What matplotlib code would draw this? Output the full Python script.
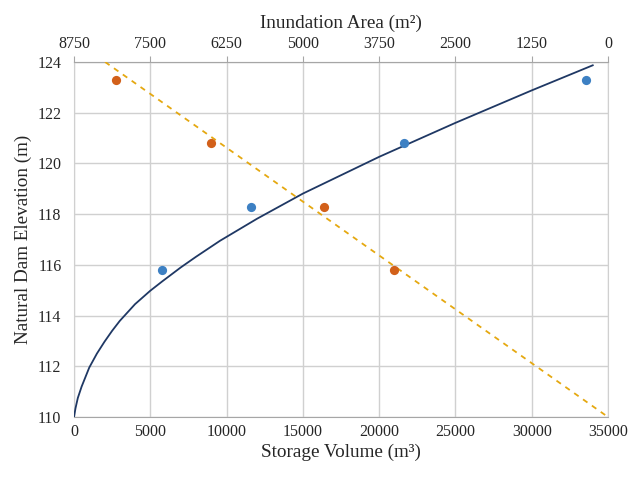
import matplotlib
matplotlib.use("Agg")
import matplotlib.pyplot as plt

plt.rcParams['font.family'] = ['Liberation Serif', 'DejaVu Serif']

# Storage volume observations (bottom axis)
volume = [5790, 11580, 21630, 33560]
volume_elev = [115.8, 118.3, 120.8, 123.3]

# Inundation area observations (top axis)
area = [8062, 6505, 4659, 3503]
area_elev = [123.3, 120.8, 118.3, 115.8]

# Storage-volume trendline
trend_vol = [0, 100, 250, 500, 1000, 1500, 2000, 2500, 3000, 4000, 5000, 5787,
             7000, 8000, 9570, 12000, 15000, 20000, 25000, 30000, 34000]
trend_vol_elev = [110, 110.35, 110.75, 111.2, 111.95, 112.5, 112.97, 113.4,
                  113.79, 114.45, 114.98, 115.35, 115.9, 116.32, 116.95,
                  117.82, 118.81, 120.26, 121.6, 122.88, 123.87]

# Inundation-area trendline end points
trend_area = [8240, 0]
trend_area_elev = [124, 110]

x_ticks = [0, 5000, 10000, 15000, 20000, 25000, 30000, 35000]
top_ticks = [8750, 7500, 6250, 5000, 3750, 2500, 1250, 0]
y_ticks = [110, 112, 114, 116, 118, 120, 122, 124]

fig = plt.figure(figsize=(6.33, 4.79), dpi=100)
ax = fig.add_axes([74/633, 1-417/479, (608-74)/633, (417-62)/479])

grid_c = '#d0d0d0'
spine_c = '#a6a6a6'
text_c = '#262626'

ax.set_xlim(0, 35000)
ax.set_ylim(110, 124)
ax.set_xticks(x_ticks)
ax.set_yticks(y_ticks)
ax.grid(True, color=grid_c, linewidth=1.0)
ax.set_axisbelow(True)
for s in ax.spines.values():
    s.set_color(grid_c)
ax.spines['bottom'].set_color(spine_c)
ax.tick_params(axis='both', length=0, labelsize=11.5, colors=text_c)
ax.tick_params(axis='y', pad=9)
ax.tick_params(axis='x', pad=5)

ax.plot(trend_vol, trend_vol_elev, color='#1f3864', linewidth=1.3, zorder=3)
ax.scatter(volume, volume_elev, s=44, color='#3d80c3', zorder=4, linewidths=0)

ax.set_xlabel('Storage Volume (m³)', fontsize=13.8, labelpad=3, color=text_c)
ax.set_ylabel('Natural Dam Elevation (m)', fontsize=13.8, labelpad=4, color=text_c)

ax2 = ax.twiny()
ax2.set_xlim(8750, 0)
ax2.set_xticks(top_ticks)
ax2.spines['top'].set_color(spine_c)
for k in ['left', 'right', 'bottom']:
    ax2.spines[k].set_visible(False)
ax2.tick_params(axis='x', length=4, labelsize=11.5, pad=3, colors=text_c)
ax2.tick_params(axis='x', color=spine_c)

ax2.plot(trend_area, trend_area_elev, color='#e5a810', linewidth=1.3,
         linestyle=(0, (3, 3)), zorder=3)
ax2.scatter(area, area_elev, s=44, color='#d2601a', zorder=4, linewidths=0)
ax2.set_xlabel('Inundation Area (m²)', fontsize=13.8, labelpad=6, color=text_c)
ax2.set_ylim(110, 124)

fig.savefig('out.png', dpi=100)
